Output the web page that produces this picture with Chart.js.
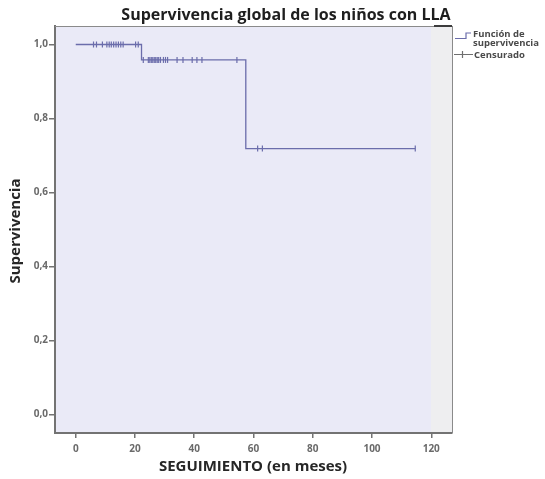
<!DOCTYPE html>
<html>
<head>
<meta charset="utf-8">
<script src="https://cdn.jsdelivr.net/npm/chart.js@4"></script>
<style>
  html, body { margin: 0; padding: 0; background: #ffffff; }
  #wrap { width: 545px; height: 479px; }
</style>
</head>
<body>
<div id="wrap"><canvas id="c" width="545" height="479"></canvas></div>
<script>
// ---- chart data -------------------------------------------------------
const titleText = 'Supervivencia global de los niños con LLA';
const xAxisTitle = 'SEGUIMIENTO (en meses)';
const yAxisTitle = 'Supervivencia';
const legendCurve = ['Función de', 'supervivencia'];
const legendCensored = 'Censurado';

// Kaplan-Meier step curve (time in months, cumulative survival)
const stepTimes    = [0,   22.2,   57.4,   114.6];
const stepSurvival = [1.0, 0.9583, 0.7188, 0.7188];

// censored cases, grouped by the survival level they sit on
const censoredAt100 = [6, 7, 9, 10.5, 11.3, 12, 12.8, 13.6, 14.4, 15.2, 16, 20.2, 21.1];
const censoredAt958 = [22.8, 24.5, 25, 25.5, 26, 26.5, 27, 27.5, 28, 28.6, 29.6, 30.3, 31, 34.2, 36.2, 39.3, 40.9, 42.6, 54.4];
const censoredAt719 = [61.4, 63, 114.6];
const censoredLevels = [1.0, 0.9583, 0.7188];

const xTickValues = [0, 20, 40, 60, 80, 100, 120];
const xTickLabels = ['0', '20', '40', '60', '80', '100', '120'];
const yTickValues = [0, 0.2, 0.4, 0.6, 0.8, 1.0];
const yTickLabels = ['0,0', '0,2', '0,4', '0,6', '0,8', '1,0'];

// ---- build datasets -----------------------------------------------------
const curvePoints = stepTimes.map((t, i) => ({ x: t, y: stepSurvival[i] }));
const censoredPoints = []
  .concat(censoredAt100.map(t => ({ x: t, y: censoredLevels[0] })))
  .concat(censoredAt958.map(t => ({ x: t, y: censoredLevels[1] })))
  .concat(censoredAt719.map(t => ({ x: t, y: censoredLevels[2] })));

const LINE = '#6b6dab';
const AXIS = '#737373';
const FONT = '"Open Sans", Lato, "DejaVu Sans", sans-serif';

// plot frame, background and the texts around it
const decorations = {
  id: 'decorations',
  beforeDraw(chart) {
    const { ctx, chartArea: a } = chart;
    ctx.save();
    ctx.fillStyle = '#eaeaf7';
    ctx.fillRect(a.left, a.top, a.right - a.left, a.bottom - a.top);
    ctx.fillStyle = '#eeeef0';
    ctx.fillRect(a.right - 21, a.top, 21, a.bottom - a.top);
    ctx.restore();
  },
  afterDraw(chart) {
    const { ctx, chartArea: a } = chart;
    ctx.save();
    // top and right frame
    ctx.strokeStyle = '#8a8a8a';
    ctx.lineWidth = 1;
    ctx.beginPath();
    ctx.moveTo(a.left, a.top + 0.5);
    ctx.lineTo(a.right, a.top + 0.5);
    ctx.moveTo(a.right + 0.5, a.top);
    ctx.lineTo(a.right + 0.5, a.bottom);
    ctx.stroke();
    ctx.strokeStyle = '#3c3c3c';
    ctx.lineWidth = 2;
    ctx.beginPath();
    ctx.moveTo(a.right - 18, a.top);
    ctx.lineTo(a.right, a.top);
    ctx.stroke();

    // title
    ctx.fillStyle = '#1e1e1e';
    ctx.font = 'bold 16px ' + FONT;
    ctx.textAlign = 'center';
    ctx.textBaseline = 'middle';
    ctx.fillText(titleText, 286, 15);

    // axis titles
    ctx.font = 'bold 15px ' + FONT;
    ctx.fillStyle = '#262626';
    ctx.fillText(xAxisTitle, 253, 467);
    ctx.save();
    ctx.translate(16, 231);
    ctx.rotate(-Math.PI / 2);
    ctx.fillText(yAxisTitle, 0, 0);
    ctx.restore();

    // legend
    ctx.strokeStyle = LINE;
    ctx.lineWidth = 1.2;
    ctx.beginPath();
    ctx.moveTo(455, 38.5);
    ctx.lineTo(466, 38.5);
    ctx.lineTo(466, 33);
    ctx.lineTo(471, 33);
    ctx.stroke();
    ctx.strokeStyle = '#6f6f6f';
    ctx.beginPath();
    ctx.moveTo(454, 54.5);
    ctx.lineTo(473, 54.5);
    ctx.moveTo(462.5, 51);
    ctx.lineTo(462.5, 58);
    ctx.stroke();
    ctx.fillStyle = '#4a4a4a';
    ctx.font = 'bold 9.5px ' + FONT;
    ctx.textAlign = 'left';
    ctx.fillText(legendCurve[0], 473, 34);
    ctx.fillText(legendCurve[1], 473, 43);
    ctx.fillText(legendCensored, 474, 55);
    ctx.restore();
  }
};

new Chart(document.getElementById('c'), {
  type: 'scatter',
  data: {
    datasets: [
      {
        label: 'Función de supervivencia',
        data: curvePoints,
        showLine: true,
        stepped: 'before',
        borderColor: LINE,
        borderWidth: 1.3,
        pointRadius: 0,
        fill: false
      },
      {
        label: 'Censurado',
        data: censoredPoints,
        showLine: false,
        pointStyle: 'line',
        rotation: 90,
        pointRadius: 3,
        borderColor: LINE,
        pointBorderWidth: 1.2,
        backgroundColor: LINE
      }
    ]
  },
  plugins: [decorations],
  options: {
    responsive: false,
    animation: false,
    events: [],
    layout: { padding: { top: 26, right: 93, left: 0, bottom: 0 } },
    plugins: {
      legend: { display: false },
      title: { display: false },
      tooltip: { enabled: false }
    },
    scales: {
      x: {
        type: 'linear',
        min: -7,
        max: 127,
        afterBuildTicks: s => { s.ticks = xTickValues.map(v => ({ value: v })); },
        afterFit: s => { s.height = 46; },
        ticks: {
          callback: (v, i) => xTickLabels[i],
          font: { family: FONT, size: 10, weight: 'bold' },
          color: '#6a6a6a',
          padding: 5,
          maxRotation: 0
        },
        grid: { drawOnChartArea: false, drawTicks: true, tickLength: 5, color: AXIS, lineWidth: 1.5 },
        border: { display: true, color: AXIS, width: 2 }
      },
      y: {
        min: -0.05,
        max: 1.05,
        afterBuildTicks: s => { s.ticks = yTickValues.map(v => ({ value: v })); },
        afterFit: s => { s.width = 55; },
        ticks: {
          callback: (v, i) => yTickLabels[i],
          font: { family: FONT, size: 10, weight: 'bold' },
          color: '#6a6a6a',
          padding: 1
        },
        grid: { drawOnChartArea: false, drawTicks: true, tickLength: 6, color: AXIS, lineWidth: 1.5 },
        border: { display: true, color: AXIS, width: 2 }
      }
    }
  }
});
</script>
</body>
</html>
